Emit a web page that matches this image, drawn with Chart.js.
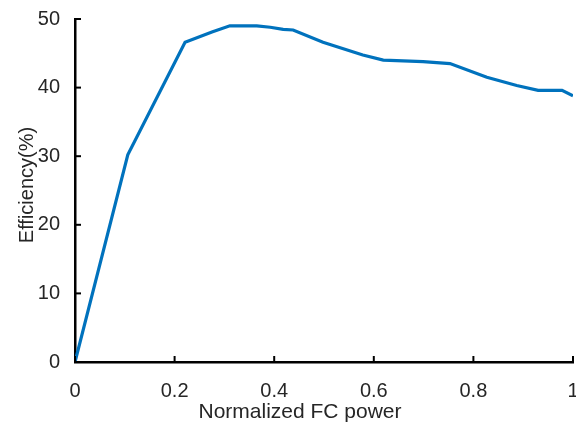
<!DOCTYPE html>
<html><head><meta charset="utf-8">
<script src="https://cdn.jsdelivr.net/npm/chart.js@4"></script>
<style>html,body{margin:0;padding:0;background:#fff}canvas{display:block}</style>
</head><body>
<canvas id="c" width="576" height="426"></canvas>
<script>
const powerX = [0, 0.106, 0.221, 0.275, 0.311, 0.365, 0.392, 0.418, 0.438, 0.498, 0.578, 0.619, 0.699, 0.753, 0.827, 0.887, 0.930, 0.978, 1.0];
const efficiency = [0, 30.2, 46.6, 48.1, 49.0, 49.0, 48.8, 48.5, 48.4, 46.6, 44.75, 44.0, 43.8, 43.5, 41.5, 40.3, 39.6, 39.6, 38.8];
const xTicks = [0, 0.2, 0.4, 0.6, 0.8, 1];
const yTicks = [0, 10, 20, 30, 40, 50];
const xTitle = 'Normalized FC power';
const yTitle = 'Efficiency(%)';

const pts = powerX.map((x, i) => ({x, y: efficiency[i]}));
const FONT = "'Liberation Sans', Arial, sans-serif";

const inwardTicks = {
  id: 'inwardTicks',
  afterDatasetsDraw(chart) {
    const {ctx, chartArea, scales} = chart;
    ctx.save();
    ctx.strokeStyle = '#000';
    ctx.lineWidth = 2;
    xTicks.forEach(v => {
      const px = scales.x.getPixelForValue(v);
      ctx.beginPath(); ctx.moveTo(px, chartArea.bottom); ctx.lineTo(px, chartArea.bottom - 6); ctx.stroke();
    });
    yTicks.forEach(v => {
      const py = scales.y.getPixelForValue(v);
      ctx.beginPath(); ctx.moveTo(chartArea.left, py); ctx.lineTo(chartArea.left + 6, py); ctx.stroke();
    });
    // axis titles
    ctx.fillStyle = '#262626';
    ctx.textAlign = 'center';
    ctx.textBaseline = 'middle';
    ctx.font = '21px ' + FONT;
    ctx.fillText(xTitle, 300, 412);
    ctx.translate(27, 185);
    ctx.rotate(-Math.PI / 2);
    ctx.font = '20px ' + FONT;
    ctx.fillText(yTitle, 0, 0);
    ctx.restore();
  }
};

new Chart(document.getElementById('c'), {
  type: 'line',
  data: { datasets: [{ data: pts, borderColor: '#0072BD', borderWidth: 3.2, pointRadius: 0, tension: 0, fill: false }] },
  options: {
    responsive: false, animation: false,
    layout: { padding: { top: 19, right: 3, left: 0, bottom: 0 } },
    plugins: { legend: { display: false }, tooltip: { enabled: false } },
    scales: {
      x: {
        type: 'linear', min: 0, max: 1,
        afterBuildTicks: s => { s.ticks = xTicks.map(v => ({value: v})); },
        afterFit: s => { s.height = 64; s.paddingLeft = 0; s.paddingRight = 0; },
        grid: { display: false },
        border: { display: true, color: '#000', width: 2.5 },
        ticks: { color: '#262626', font: { family: FONT, size: 20 }, padding: 9, maxRotation: 0,
                 callback: v => String(v) },
        title: { display: false }
      },
      y: {
        min: 0, max: 50,
        afterBuildTicks: s => { s.ticks = yTicks.map(v => ({value: v})); },
        afterFit: s => { s.width = 75; s.paddingTop = 0; s.paddingBottom = 0; },
        grid: { display: false },
        border: { display: true, color: '#000', width: 2.5 },
        ticks: { color: '#262626', font: { family: FONT, size: 20 }, padding: 7 },
        title: { display: false }
      }
    }
  },
  plugins: [inwardTicks]
});
</script>
</body></html>
